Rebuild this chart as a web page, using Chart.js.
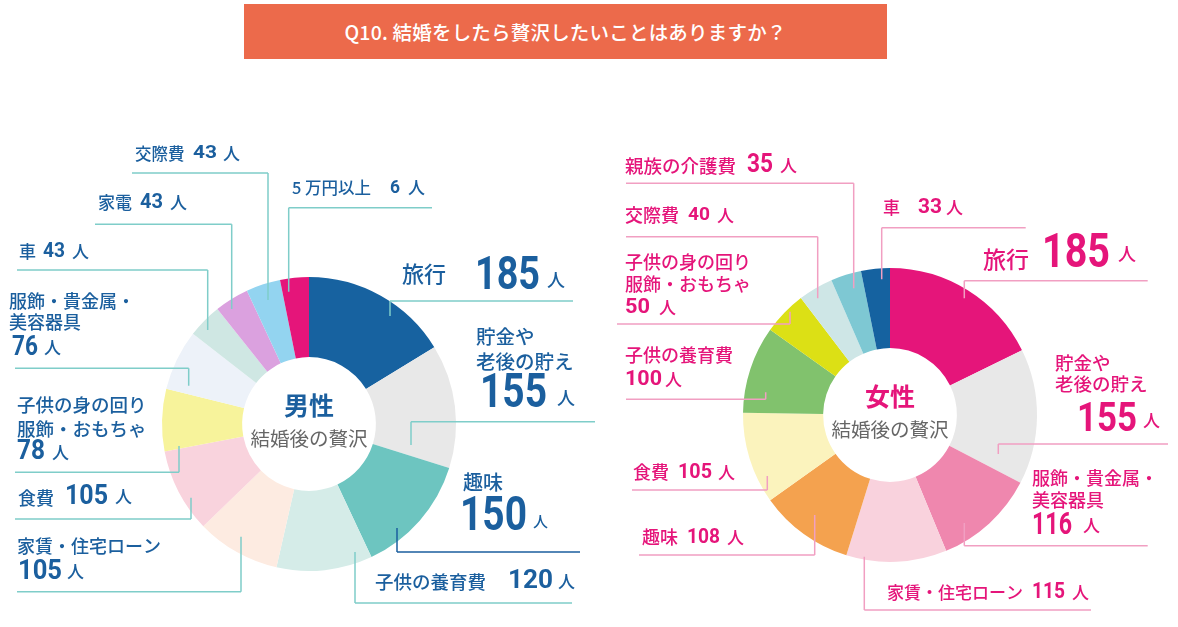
<!DOCTYPE html>
<html><head><meta charset="utf-8">
<script src="https://cdn.jsdelivr.net/npm/chart.js@4.4.0/dist/chart.umd.min.js"></script>
<style>
html,body{margin:0;padding:0;background:#fff;}
#wrap{position:relative;width:1178px;height:627px;overflow:hidden;background:#fff;}
canvas{position:absolute;left:0;top:0;}
#title{position:absolute;left:244px;top:4px;width:643px;height:55px;background:#ec6a4b;color:#fff;font:500 19.5px 'Noto Sans CJK JP',sans-serif;display:flex;align-items:center;justify-content:center;letter-spacing:0.2px;}
</style></head><body>
<div id="wrap">
<canvas id="male" width="1178" height="627"></canvas>
<canvas id="female" width="1178" height="627"></canvas>
<div id="title">Q10. 結婚をしたら贅沢したいことはありますか？</div>
</div>
<script>
// ---------- DATA ----------
const maleCategories = ['旅行','貯金や\n老後の貯え','趣味','子供の養育費','家賃・住宅ローン','食費','子供の身の回り\n服飾・おもちゃ','服飾・貴金属・\n美容器具','車','家電','交際費','5 万円以上'];
const maleCounts = [185,155,150,120,105,105,78,76,43,43,43,6];        // numbers printed in labels
const maleValues = [185,155,150,120,105,105,78,76,43,43,43,36];       // slice sizes as drawn in the picture (last slice is drawn ~36)
const maleColors = ['#1762a0','#e8e8e8','#6dc5c0','#d5ece8','#fdebe1','#f9d3dd','#f7f39b','#edf2f9','#cfe7e3','#dba1df','#93d4f0','#e5157a'];

const femaleCategories = ['旅行','貯金や\n老後の貯え','服飾・貴金属・\n美容器具','家賃・住宅ローン','趣味','食費','子供の養育費','子供の身の回り\n服飾・おもちゃ','交際費','親族の介護費','車'];
const femaleCounts = [185,155,116,115,108,105,100,50,40,35,33];
const femaleValues = [185,155,116,115,108,105,100,50,40,35,33];
const femaleColors = ['#e5157a','#e8e8e8','#ef87ae','#f9d2dd','#f4a24f','#fbf3bd','#81c26d','#dce015','#cee6e6','#7ec8d3','#1562a0'];

const unitText = '人';
const centerTitles = ['男性','女性'];
const centerSub = '結婚後の贅沢';

// ---------- LAYOUT (label placement only) ----------
const maleLayout = [
 {nx:402, ny:274, nfs:22, dx:475, dy:277, dfs:46, dw:65, ux:547, uy:280, ufs:18, line:{y:301, x1:390, x2:573, vx:390, vy:316}},
 {nx:476, ny:337, lh:24.5, nfs:19.5, dx:480, dy:395, dfs:49, dw:67, ux:557, uy:398, ufs:18, line:{y:421.7, x1:411, x2:595, vx:411, vy:445}},
 {nx:463, ny:482, nfs:20, dx:460, dy:517.5, dfs:49, dw:67, ux:533, uy:521, ufs:15, line:{y:552, x1:397, x2:580, vx:397, vy:528}, dark:true},
 {nx:375, ny:582, nfs:18.5, dx:508, dy:582, dfs:25, dw:45, ux:558, ufs:17, line:{y:603, x1:355, x2:572, vx:355, vy:552}},
 {nx:17, ny:546, nfs:18, dx:18, dy:572, dfs:28, dw:44, ux:67, ufs:17, line:{y:591.7, x1:17, x2:241, vx:241, vy:536.7}},
 {nx:18, ny:498, nfs:18, dx:65, dy:497, dfs:28, dw:43, ux:115, ufs:17, line:{y:519, x1:15, x2:191, vx:191, vy:497.7}},
 {nx:17, ny:405, lh:23.5, nfs:18.5, dx:17, dy:452.5, dfs:27, dw:28, ux:52, ufs:17, line:{y:472.3, x1:15, x2:179, vx:179, vy:446}},
 {nx:9, ny:301, lh:21.5, nfs:18, dx:12, dy:348, dfs:27, dw:26, ux:44, ufs:17, line:{y:368.3, x1:15, x2:188.7, vx:188.7, vy:385.7}},
 {nx:19, ny:252, nfs:17, dx:43, dy:252, dfs:21, dw:22, ux:72, ufs:17, line:{y:270, x1:17, x2:207.7, vx:207.7, vy:330}},
 {nx:98, ny:203, nfs:17, dx:140, dy:203, dfs:21, dw:23, ux:170, ufs:17, line:{y:224.3, x1:95, x2:231.7, vx:231.7, vy:309}},
 {nx:135, ny:153.5, nfs:16.5, dx:193, dy:153.5, dfs:19, dw:24, ux:223, ufs:17, line:{y:173, x1:132, x2:268, vx:268, vy:300}},
 {nx:292, ny:188, nfs:16.5, dx:390, dy:188, dfs:18, dw:10, ux:408, ufs:17, line:{y:207.7, x1:288.7, x2:432, vx:288.7, vy:291.7}}
];
const femaleLayout = [
 {nx:983, ny:259, nfs:23, dx:1042, dy:255, dfs:48, dw:68, ux:1118, uy:254, ufs:18, line:{y:280.7, x1:964.3, x2:1147.7, vx:964.3, vy:298.3}},
 {nx:1055, ny:362.5, lh:21.5, nfs:18.5, dx:1077, dy:421, dfs:40, dw:60, ux:1143, uy:421, ufs:17, line:{y:444, x1:998.3, x2:1168, vx:998.3, vy:454}},
 {nx:1032, ny:478, lh:22, nfs:18, dx:1032, dy:526, dfs:31, dw:40, ux:1083, ufs:17, line:{y:545.7, x1:964.3, x2:1147.7, vx:964.3, vy:523}},
 {nx:887, ny:592.5, nfs:17, dx:1032, dy:592.5, dfs:22, dw:33, ux:1072, ufs:17, line:{y:610, x1:864.3, x2:1091, vx:864.3, vy:556.7}},
 {nx:642, ny:537.5, nfs:18, dx:687, dy:537.5, dfs:21, dw:33, ux:727, ufs:17, line:{y:555, x1:639, x2:814.7, vx:814.7, vy:515}},
 {nx:633, ny:472.5, nfs:18, dx:678, dy:472.5, dfs:21, dw:34, ux:718, ufs:17, line:{y:490, x1:632, x2:767.3, vx:767.3, vy:476}},
 {nx:625, ny:355, nfs:18, dx:625, dy:380, dfs:21, dw:37, ux:665, ufs:17, line:{y:399.3, x1:626, x2:765.7, vx:765.7, vy:392.3}},
 {nx:625, ny:262.5, lh:22, nfs:18, dx:625, dy:307.5, dfs:21, dw:25, ux:659, ufs:17, line:{y:324, x1:617, x2:790, vx:790, vy:311.7}},
 {nx:625, ny:215.5, nfs:18, dx:688, dy:215.5, dfs:19, dw:22, ux:717, ufs:17, line:{y:236.7, x1:626, x2:817.7, vx:817.7, vy:298.3}},
 {nx:625, ny:165.5, nfs:18.5, dx:747, dy:165.5, dfs:26, dw:26, ux:780, ufs:17, line:{y:183.3, x1:626, x2:853.7, vx:853.7, vy:288.3}},
 {nx:883, ny:207.5, nfs:17, dx:918, dy:207.5, dfs:21, dw:24, ux:946, ufs:17, line:{y:227.7, x1:881.7, x2:1025.7, vx:881.7, vy:279.3}}
];

const JP = "'Noto Sans CJK JP', sans-serif";
const NUM = "Roboto, 'Noto Sans CJK JP', sans-serif";

function labelPlugin(names, counts, layout, textColor, lineColor, darkLine, titleIdx) {
  return {
    id: 'labels' + titleIdx,
    afterDraw(chart) {
      const ctx = chart.ctx;
      ctx.save();
      ctx.textBaseline = 'middle';
      ctx.textAlign = 'left';
      layout.forEach((L, i) => {
        const ln = L.line;
        ctx.strokeStyle = L.dark ? darkLine : lineColor;
        ctx.lineWidth = 1.5;
        ctx.beginPath();
        ctx.moveTo(ln.x1, ln.y);
        ctx.lineTo(ln.x2, ln.y);
        ctx.moveTo(ln.vx, ln.y);
        ctx.lineTo(ln.vx, ln.vy);
        ctx.stroke();

        ctx.fillStyle = textColor;
        const lines = names[i].split('\n');
        ctx.font = `500 ${L.nfs}px ${JP}`;
        lines.forEach((t, k) => ctx.fillText(t, L.nx, L.ny + k * (L.lh || 0)));

        ctx.font = `700 ${L.dfs}px ${NUM}`;
        const s = String(counts[i]);
        const w = ctx.measureText(s).width;
        ctx.save();
        ctx.translate(L.dx, L.dy);
        ctx.scale(L.dw / w, 1);
        ctx.fillText(s, 0, 0);
        ctx.restore();

        ctx.font = `500 ${L.ufs}px ${JP}`;
        ctx.fillText(unitText, L.ux, L.uy || L.dy);
      });
      // centre text
      const arc = chart.getDatasetMeta(0).data[0];
      const cx = arc.x, cy = arc.y;
      ctx.textAlign = 'center';
      ctx.fillStyle = textColor;
      ctx.font = `700 25px ${JP}`;
      ctx.fillText(centerTitles[titleIdx], cx, cy - 18.5);
      ctx.fillStyle = '#666666';
      ctx.font = `400 19.5px ${JP}`;
      ctx.fillText(centerSub, cx, cy + 14.5);
      ctx.restore();
    }
  };
}

function makeChart(id, labels, values, colors, padding, plugin) {
  return new Chart(document.getElementById(id), {
    type: 'doughnut',
    data: { labels: labels, datasets: [{ data: values, backgroundColor: colors, borderWidth: 0, hoverOffset: 0 }] },
    options: {
      responsive: false, animation: false, devicePixelRatio: 1,
      cutout: '45.5%', rotation: 0,
      layout: { padding: padding },
      events: [],
      plugins: { legend: { display: false }, tooltip: { enabled: false } }
    },
    plugins: [plugin]
  });
}

makeChart('male', maleCategories, maleValues, maleColors,
  { left: 162, right: 722, top: 277, bottom: 56 },
  labelPlugin(maleCategories, maleCounts, maleLayout, '#1b5f9e', '#7fcdc9', '#1b5f9e', 0));
makeChart('female', femaleCategories, femaleValues, femaleColors,
  { left: 743, right: 141, top: 268, bottom: 65 },
  labelPlugin(femaleCategories, femaleCounts, femaleLayout, '#e5157a', '#f19fc2', '#e5157a', 1));
</script>
</body></html>
